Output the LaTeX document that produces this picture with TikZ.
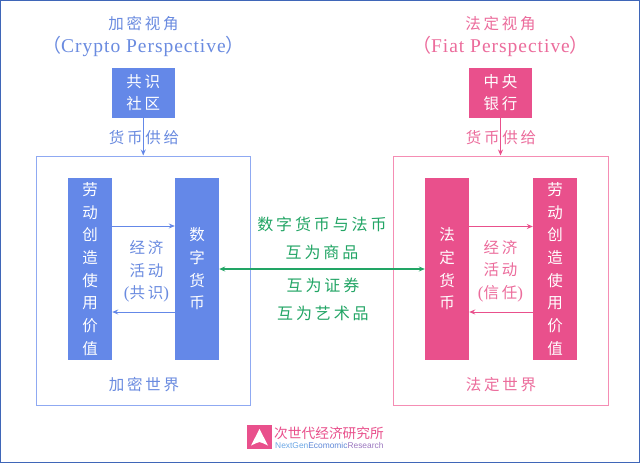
\documentclass[tikz,border=0pt]{standalone}
\usepackage{fontspec}
\setmainfont{Liberation Serif}
\newfontfamily\lat[LetterSpace=5]{Liberation Serif}
\newfontfamily\cjk[LetterSpace=18]{Noto Sans CJK SC}
\newfontfamily\cjkb[LetterSpace=0]{Noto Sans CJK SC}
\newfontfamily\eng{Liberation Sans}
\usetikzlibrary{arrows.meta,calc}
\definecolor{cblue}{HTML}{6488E8}
\definecolor{tblue}{HTML}{6A8BE0}
\definecolor{lblue}{HTML}{8FA9F2}
\definecolor{cpink}{HTML}{E9508C}
\definecolor{tpink}{HTML}{EC6C9C}
\definecolor{lpink}{HTML}{F58DB4}
\definecolor{cgreen}{HTML}{22A565}
\definecolor{frame}{HTML}{3F66B8}
\definecolor{ena}{HTML}{6CA8E6}
\definecolor{enb}{HTML}{5F88D8}
\definecolor{enc}{HTML}{9C78C0}
\tikzset{
  x=1pt,y=-1pt,
  fillbox/.style={draw=none,inner sep=0,minimum width=#1,align=center,text=white,font=\cjk\fontsize{15.5}{22.7}\selectfont},
  world/.style={rectangle,inner sep=0,line width=1pt,fill=white},
  lab/.style={inner sep=0,align=center,font=\cjk\fontsize{15.5}{22.5}\selectfont},
  ttl/.style={inner sep=0,align=center,font=\lat\fontsize{19.5}{23}\selectfont},
  commbox/.style={inner sep=0,minimum width=62.5pt,minimum height=50pt,text=white,align=center,font=\cjk\fontsize{15.5}{22}\selectfont},
  arr/.style={-{Stealth[length=6pt,width=5pt]},line width=1pt},
  garr/.style={{Stealth[length=6pt,width=5pt]}-{Stealth[length=6pt,width=5pt]},line width=1.4pt,draw=cgreen},
}
\begin{document}
\begin{tikzpicture}
\useasboundingbox (0,0) rectangle (640,463);
\fill[white] (0,0) rectangle (640,463);
\draw[frame,line width=1pt] (0.5,0.5) rectangle (639.5,462);
% titles
\node[ttl,text=tblue] (tl) at (143.5,36.5) {{\cjk\fontsize{15.5}{23}\selectfont 加密视角}\\[0pt]{\cjkb\fontsize{19}{23}\selectfont （}Crypto Perspective{\cjkb\fontsize{19}{23}\selectfont ）}};
\node[ttl,text=tpink] (tr) at (500.5,36.5) {{\cjk\fontsize{15.5}{23}\selectfont 法定视角}\\[0pt]{\cjkb\fontsize{19}{23}\selectfont （}Fiat Perspective{\cjkb\fontsize{19}{23}\selectfont ）}};
% worlds
\node[world,draw=lblue,minimum width=214.5pt,minimum height=249pt] (wl) at (143.25,280.5) {};
\node[world,draw=lpink,minimum width=215pt,minimum height=249pt] (wr) at (500.5,280.5) {};
% community boxes
\node[commbox,fill=cblue] (sl) at (143.25,93) {共识\\社区};
\node[commbox,fill=cpink] (sr) at (500.5,93) {中央\\银行};
\draw[arr,draw=cblue] (sl) -- (wl);
\draw[arr,draw=cpink] (sr) -- (wr);
\node[lab,text=tblue] (gl) at (144,138) {货币供给};
\node[lab,text=tpink] (gr) at (501,138) {货币供给};
% bars
\node[fillbox=44pt,fill=cblue,minimum height=182pt] (a) at (90,269) {劳\\动\\创\\造\\使\\用\\价\\值};
\node[fillbox=44pt,fill=cblue,minimum height=182pt] (b) at (197,269) {数\\字\\货\\币};
\node[fillbox=44pt,fill=cpink,minimum height=182pt] (c) at (447,269) {法\\定\\货\\币};
\node[fillbox=44pt,fill=cpink,minimum height=182pt] (d) at (555,269) {劳\\动\\创\\造\\使\\用\\价\\值};
% inner arrows
\draw[arr,draw=cblue] ([yshift=43pt]a.east) -- ([yshift=43pt]b.west);
\draw[arr,draw=cblue] ([yshift=-43pt]b.west) -- ([yshift=-43pt]a.east);
\draw[arr,draw=cpink] ([yshift=42.5pt]c.east) -- ([yshift=42.5pt]d.west);
\draw[arr,draw=cpink] ([yshift=-43pt]d.west) -- ([yshift=-43pt]c.east);
\node[lab,text=tblue] (el) at (146.5,271.5) {经济\\活动\\{\rmfamily\fontsize{17}{22.5}\selectfont (}共识{\rmfamily\fontsize{17}{22.5}\selectfont )}};
\node[lab,text=tpink] (er) at (500.5,271) {经济\\活动\\{\rmfamily\fontsize{17}{22.5}\selectfont (}信任{\rmfamily\fontsize{17}{22.5}\selectfont )}};
\node[lab,text=tblue] (nl) at (144,385) {加密世界};
\node[lab,text=tpink] (nr) at (501,384.5) {法定世界};
% centre
\draw[garr] (b.east) -- (c.west);
\node[lab,text=cgreen,font=\cjk\fontsize{16}{28}\selectfont] (m1) at (322,238.5) {数字货币与法币\\互为商品};
\node[lab,text=cgreen,font=\cjk\fontsize{16}{28}\selectfont] (m2) at (323,299.5) {互为证券\\互为艺术品};
% logo
\node[fill=cpink,inner sep=0,minimum width=24.5pt,minimum height=24pt] (lg) at (259.5,437) {};
\fill[white] ($(lg.center)+(0,-8)$) -- ($(lg.center)+(-8.5,8.5)$) -- ($(lg.center)+(-3,6)$) -- ($(lg.center)+(0,5)$) -- ($(lg.center)+(3,6)$) -- ($(lg.center)+(8.5,8.5)$) -- cycle;
\node[inner sep=0,text=cpink,anchor=west,font=\cjkb\fontsize{13.7}{16}\selectfont] (lt) at (274,433.5) {次世代经济研究所};
\node[inner sep=0,anchor=west] (le) at (275,445.5) {\eng\fontsize{8.4}{9}\selectfont\textcolor{ena}{NextGen}\textcolor{enb}{Ecomomic}\textcolor{enc}{Research}};
\end{tikzpicture}
\end{document}
